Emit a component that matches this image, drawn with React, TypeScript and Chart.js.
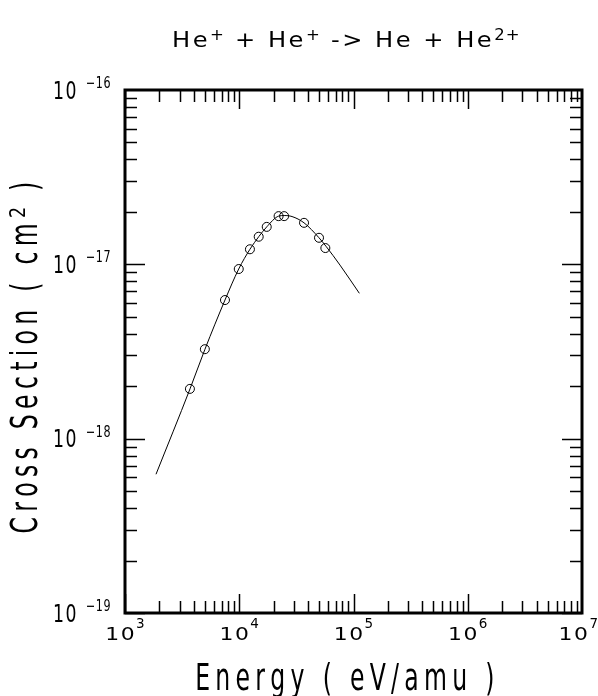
import React, { useEffect, useRef } from "react";
import { Chart, registerables } from "chart.js";

Chart.register(...registerables);

// Fitted curve (energy eV/amu, cross section cm^2)
const curveEnergy = [1868, 3707, 5012, 7500, 9890, 12400, 14800, 17400, 22100, 24700, 28970, 36900, 49900, 57400, 76200, 112500];
const curveSigma = [6.25e-19, 1.93e-18, 3.26e-18, 6.24e-18, 9.4e-18, 1.22e-17, 1.44e-17, 1.64e-17, 1.89e-17, 1.905e-17, 1.88e-17, 1.73e-17, 1.42e-17, 1.27e-17, 9.9e-18, 6.82e-18];

// Measured points
const dataEnergy = [3700, 5000, 7500, 9900, 12400, 14800, 17400, 22100, 24700, 36900, 49900, 56700];
const dataSigma = [1.93e-18, 3.26e-18, 6.24e-18, 9.4e-18, 1.22e-17, 1.44e-17, 1.64e-17, 1.89e-17, 1.89e-17, 1.73e-17, 1.42e-17, 1.24e-17];

// Axis decades (tick labels 10^n)
const xDecades = [3, 4, 5, 6, 7];
const yDecades = [-19, -18, -17, -16];

const titleParts: { t: string; sup?: boolean }[] = [
  { t: "He" },
  { t: "+", sup: true },
  { t: " + He" },
  { t: "+", sup: true },
  { t: " -> He + He" },
  { t: "2+", sup: true },
];
const xTitle = "Energy ( eV/amu )";
const yTitleParts: { t: string; sup?: boolean }[] = [
  { t: "Cross Section ( cm" },
  { t: "2", sup: true },
  { t: " )" },
];

const FONT = '"DejaVu Sans"';

type Style = { size: number; sx: number; spacing: number };

function measureStr(ctx: CanvasRenderingContext2D, text: string, s: Style) {
  ctx.font = `${s.size}px ${FONT}`;
  let w = 0;
  for (const ch of text) w += ctx.measureText(ch).width * s.sx + s.spacing;
  return w;
}

function drawStr(ctx: CanvasRenderingContext2D, text: string, x: number, y: number, s: Style) {
  ctx.font = `${s.size}px ${FONT}`;
  let cx = x;
  for (const ch of text) {
    const w = ctx.measureText(ch).width;
    ctx.save();
    ctx.translate(cx, y);
    ctx.scale(s.sx, 1);
    ctx.fillText(ch, 0, 0);
    ctx.restore();
    cx += w * s.sx + s.spacing;
  }
  return cx;
}

function drawRich(
  ctx: CanvasRenderingContext2D,
  parts: { t: string; sup?: boolean }[],
  x: number,
  y: number,
  main: Style,
  sup: Style,
  supRise: number,
  center: boolean
) {
  let total = 0;
  parts.forEach((p) => (total += measureStr(ctx, p.t, p.sup ? sup : main)));
  let cx = center ? x - total / 2 : x;
  parts.forEach((p) => {
    cx = drawStr(ctx, p.t, cx, p.sup ? y - supRise : y, p.sup ? sup : main);
  });
}

const decorPlugin = {
  id: "decor",
  afterDraw(chart: any) {
    const ctx: CanvasRenderingContext2D = chart.ctx;
    const xs = chart.scales.x;
    const ys = chart.scales.y;
    const a = chart.chartArea;
    ctx.save();
    ctx.fillStyle = "#000";
    ctx.strokeStyle = "#000";
    ctx.textBaseline = "alphabetic";
    ctx.textAlign = "left";

    // ticks
    ctx.lineWidth = 1.5;
    ctx.beginPath();
    for (let d = xDecades[0]; d < xDecades[xDecades.length - 1]; d++) {
      for (let m = 1; m <= 9; m++) {
        const v = m * Math.pow(10, d);
        const px = Math.round(xs.getPixelForValue(v)) + 0.5;
        const len = m === 1 ? 19 : 12;
        ctx.moveTo(px, a.top);
        ctx.lineTo(px, a.top + len);
        ctx.moveTo(px, a.bottom);
        ctx.lineTo(px, a.bottom - len);
      }
    }
    for (let d = yDecades[0]; d < yDecades[yDecades.length - 1]; d++) {
      for (let m = 1; m <= 9; m++) {
        const v = m * Math.pow(10, d);
        const py = Math.round(ys.getPixelForValue(v)) + 0.5;
        const len = m === 1 ? 20 : 12;
        ctx.moveTo(a.left, py);
        ctx.lineTo(a.left + len, py);
        ctx.moveTo(a.right, py);
        ctx.lineTo(a.right - len, py);
      }
    }
    ctx.stroke();

    // frame
    ctx.lineWidth = 3;
    ctx.strokeRect(a.left, a.top, a.right - a.left, a.bottom - a.top);

    // x tick labels
    const xMain: Style = { size: 17.5, sx: 1.25, spacing: 1.5 };
    const xSup: Style = { size: 13.5, sx: 1.0, spacing: 0 };
    xDecades.forEach((d) => {
      const px = xs.getPixelForValue(Math.pow(10, d));
      const w = measureStr(ctx, "10", xMain) + measureStr(ctx, String(d), xSup);
      let cx = Math.min(px - w / 2, 598 - w);
      cx = drawStr(ctx, "10", cx, 639.5, xMain);
      drawStr(ctx, String(d), cx, 628, xSup);
    });

    // y tick labels
    const yMain: Style = { size: 24, sx: 0.72, spacing: 1.5 };
    const ySup: Style = { size: 15.5, sx: 0.72, spacing: 0.5 };
    yDecades.forEach((d) => {
      const py = ys.getPixelForValue(Math.pow(10, d));
      drawStr(ctx, "10", 53, py + 8.5, yMain);
      drawStr(ctx, "\u2212" + String(-d), 86, py - 2, ySup);
    });

    // title
    drawRich(
      ctx,
      titleParts,
      172,
      47,
      { size: 21, sx: 1.15, spacing: 2.5 },
      { size: 15, sx: 1.1, spacing: 1 },
      7,
      false
    );

    // axis titles
    const axMain: Style = { size: 38, sx: 0.62, spacing: 5.3 };
    const axSup: Style = { size: 22, sx: 0.8, spacing: 3 };
    drawRich(ctx, [{ t: xTitle }], (a.left + a.right) / 2 - 6, 690, axMain, axSup, 0, true);

    ctx.save();
    ctx.translate(37, 355);
    ctx.rotate(-Math.PI / 2);
    drawRich(ctx, yTitleParts, 0, 0, axMain, axSup, 12, true);
    ctx.restore();

    ctx.restore();
  },
};

export default function App() {
  const ref = useRef<HTMLCanvasElement>(null);
  useEffect(() => {
    if (!ref.current) return;
    const chart = new Chart(ref.current, {
      type: "scatter",
      data: {
        datasets: [
          {
            data: curveEnergy.map((e, i) => ({ x: e, y: curveSigma[i] })),
            showLine: true,
            borderColor: "#000",
            borderWidth: 1,
            pointRadius: 0,
            cubicInterpolationMode: "monotone",
            fill: false,
          } as any,
          {
            data: dataEnergy.map((e, i) => ({ x: e, y: dataSigma[i] })),
            showLine: false,
            borderColor: "#000",
            backgroundColor: "rgba(0,0,0,0)",
            borderWidth: 1,
            pointRadius: 4.5,
            pointStyle: "circle",
          },
        ],
      },
      options: {
        responsive: false,
        animation: false,
        devicePixelRatio: 1,
        layout: { padding: { left: 125, top: 90, right: 16, bottom: 83 } },
        plugins: { legend: { display: false }, tooltip: { enabled: false }, title: { display: false } },
        scales: {
          x: { type: "logarithmic", min: 1e3, max: 1e7, display: false },
          y: { type: "logarithmic", min: 1e-19, max: 1e-16, display: false },
        },
      },
      plugins: [decorPlugin],
    });
    return () => chart.destroy();
  }, []);
  return (
    <div style={{ position: "absolute", left: 0, top: 0, width: 598, height: 696, background: "#fff" }}>
      <canvas ref={ref} width={598} height={696} style={{ display: "block", width: 598, height: 696 }} />
    </div>
  );
}
